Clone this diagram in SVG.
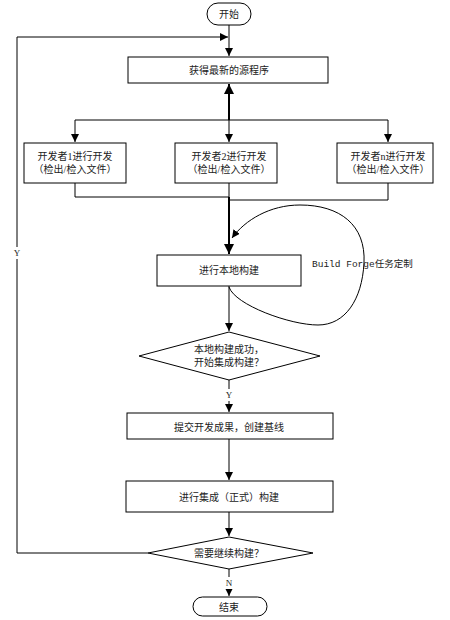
<svg xmlns="http://www.w3.org/2000/svg" width="450" height="620" viewBox="0 0 450 620">
<defs>
<marker id="ah" viewBox="0 0 10 10" refX="10" refY="5" markerWidth="8" markerHeight="8" markerUnits="userSpaceOnUse" orient="auto">
<path d="M0,0 L10,5 L0,10 z" fill="#000"/>
</marker>
<marker id="ah2" viewBox="0 0 10 10" refX="10" refY="5" markerWidth="5" markerHeight="5" orient="auto">
<path d="M0,0 L10,5 L0,10 z" fill="#000"/>
</marker>
</defs>
<style>
.n{fill:#fff;stroke:#000;stroke-width:1}
.t{font-family:"Liberation Serif","Noto Sans CJK SC",serif;font-size:10px;fill:#222;text-anchor:middle;dominant-baseline:central}
.c{fill:none;stroke:#000;stroke-width:1}
.b{fill:none;stroke:#000;stroke-width:2}
.m{font-family:"Liberation Mono","Noto Sans CJK SC",monospace;font-size:9.5px;fill:#222;dominant-baseline:central}
.l{font-family:"Liberation Serif",serif;font-size:9px;fill:#222;text-anchor:middle;dominant-baseline:central}
</style>
<rect width="450" height="620" fill="#fff"/>
<g id="connectors">
<path class="c" d="M229,25 V56" marker-end="url(#ah)"/>
<path class="c" d="M148,553 H17 V37 H228" marker-end="url(#ah)"/>
<path class="b" d="M229,120 V84" marker-end="url(#ah2)"/>
<path class="c" d="M75,120 H388"/>
<path class="c" d="M75,120 V142" marker-end="url(#ah)"/>
<path class="c" d="M229,120 V142" marker-end="url(#ah)"/>
<path class="c" d="M388,120 V142" marker-end="url(#ah)"/>
<path class="c" d="M75,183 V197 H229"/>
<path class="c" d="M229,183 V197"/>
<path class="c" d="M388,183 V200 H229"/>
<path class="b" d="M229,197 V254" marker-end="url(#ah2)"/>
<path class="c" d="M229,287 C235,305 290,325 318,325 C345,325 362,300 364,263 C366,225 340,205 300,205 C270,205 245,220 232,238" marker-end="url(#ah)"/>
<path class="c" d="M229,286 V331" marker-end="url(#ah)"/>
<path class="c" d="M229,380 V412" marker-end="url(#ah)"/>
<path class="c" d="M229,439 V480" marker-end="url(#ah)"/>
<path class="c" d="M229,512 V536" marker-end="url(#ah)"/>
<path class="c" d="M229,569 V596" marker-end="url(#ah)"/>
<rect x="12" y="247" width="10" height="12" fill="#fff"/>
<text class="l" x="17" y="253">Y</text>
<rect x="224" y="389" width="10" height="12" fill="#fff"/>
<text class="l" x="229" y="395">Y</text>
<rect x="224" y="577" width="10" height="12" fill="#fff"/>
<text class="l" x="229" y="583">N</text>
<text class="m" x="312" y="264">Build Forge任务定制</text>
</g>
<g id="start">
<rect class="n" x="207" y="3" width="44" height="22" rx="11"/>
<text class="t" x="229" y="14">开始</text>
</g>
<g id="getSource">
<rect class="n" x="128" y="57" width="200" height="26"/>
<text class="t" x="229" y="70">获得最新的源程序</text>
</g>
<g id="dev1">
<rect class="n" x="24" y="143" width="102" height="40"/>
<text class="t" x="75" y="156">开发者1进行开发</text>
<text class="t" x="75" y="169">（检出/检入文件）</text>
</g>
<g id="dev2">
<rect class="n" x="175" y="143" width="102" height="40"/>
<text class="t" x="229" y="156">开发者2进行开发</text>
<text class="t" x="229" y="169">（检出/检入文件）</text>
</g>
<g id="devn">
<rect class="n" x="337" y="143" width="96" height="40"/>
<text class="t" x="388" y="156">开发者n进行开发</text>
<text class="t" x="388" y="169">（检出/检入文件）</text>
</g>
<g id="localBuild">
<rect class="n" x="157" y="255" width="144" height="31"/>
<text class="t" x="229" y="270">进行本地构建</text>
</g>
<g id="decision1">
<polygon class="n" points="229,332 320,356 229,380 139,356"/>
<text class="t" x="229" y="349">本地构建成功，</text>
<text class="t" x="229" y="362">开始集成构建？</text>
</g>
<g id="commit">
<rect class="n" x="127" y="413" width="206" height="26"/>
<text class="t" x="229" y="427">提交开发成果，创建基线</text>
</g>
<g id="integrationBuild">
<rect class="n" x="126" y="481" width="207" height="31"/>
<text class="t" x="229" y="497">进行集成（正式）构建</text>
</g>
<g id="decision2">
<polygon class="n" points="229,537 313,553 229,569 148,553"/>
<text class="t" x="229" y="553">需要继续构建？</text>
</g>
<g id="end">
<rect class="n" x="193" y="597" width="74" height="19" rx="9.5"/>
<text class="t" x="229" y="607">结束</text>
</g>
</svg>
